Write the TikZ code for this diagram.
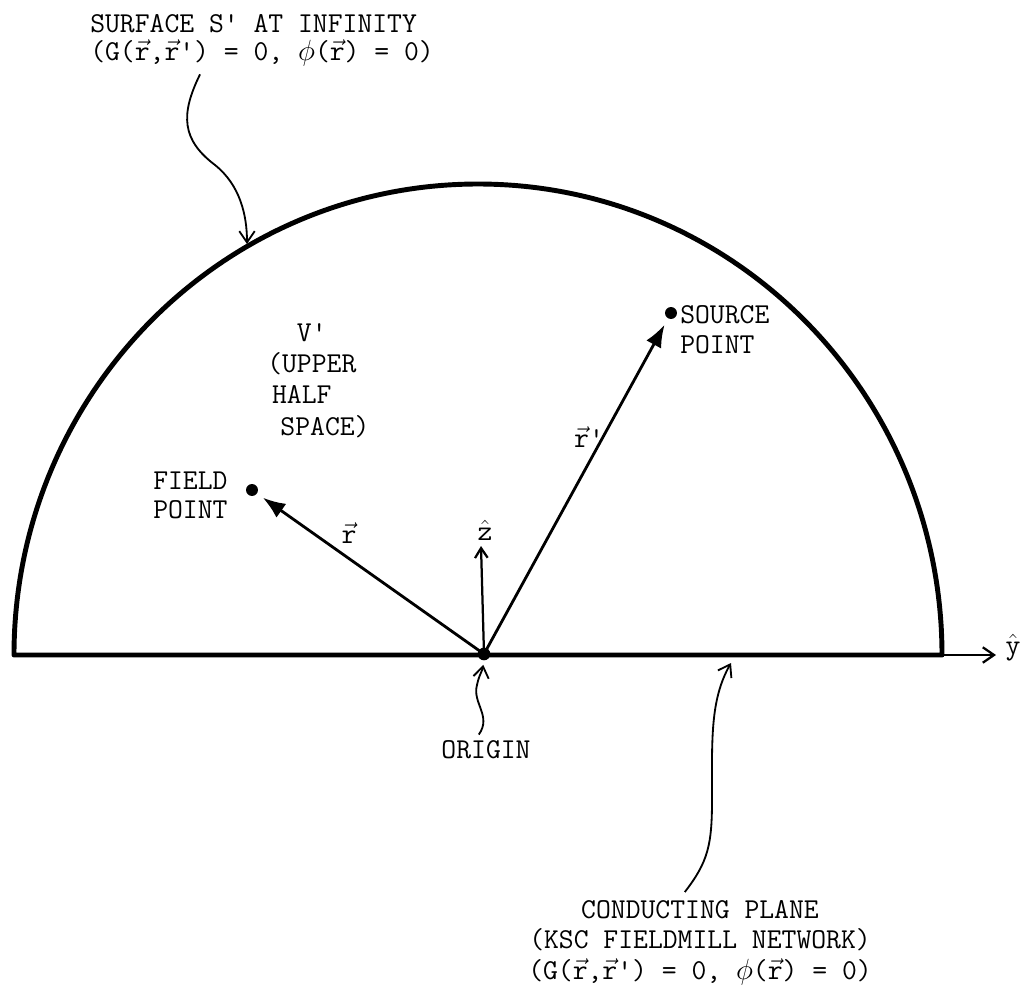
\documentclass[tikz,border=0pt]{standalone}
\usepackage{fontspec}
\usetikzlibrary{arrows.meta}

\tikzset{
	txt/.style={font=\ttfamily\addfontfeature{FakeBold=1.2}\fontsize{20.5}{#1}\selectfont, inner sep=0pt},
	txt/.default=21.8pt,
	bound/.style={line width=3.5pt, line join=round},
	vect/.style={line width=2pt, -{Latex[length=16pt,width=12pt]}, shorten >=5pt},
	pointer/.style={line width=1.3pt, -{Straight Barb[length=8pt,width=11pt]}},
	dot/.style={circle, fill, inner sep=0pt, minimum size=#1},
}
\newcommand{\rvec}{$\vec{\mathtt{r}}$}

\begin{document}
\begin{tikzpicture}[x=0.025cm, y=-0.025cm]
		\useasboundingbox (0,0) rectangle (1026,988);
		% half space
		\draw[bound] (14,655) -- (942,655) arc[start angle=0, end angle=-180, x radius=464, y radius=471] -- cycle;
		\coordinate (yend) at (996,655);
		\draw[line width=1.6pt, -{Straight Barb[length=8pt,width=11pt]}] (942,655) -- (yend);
		\node[txt] (yhat) at (1013,648) {$\hat{\mathtt{y}}$};
		% points
		\node[dot=9pt] (origin) at (484,654) {};
		\node[dot=8.5pt] (fieldpt) at (252,490) {};
		\node[dot=8.5pt] (sourcept) at (671,313) {};
		\coordinate (ztip) at (481,546);
		\draw[vect] (origin.center) -- (fieldpt);
		\draw[vect] (origin.center) -- (sourcept);
		\draw[line width=1.6pt, -{Straight Barb[length=7pt,width=9pt]}] (origin.center) -- (ztip);
		\node[txt] (rlbl) at (349,533) {\rvec};
		\node[txt] (rplbl) at (589,437) {\rvec'};
		\node[txt] (zlbl) at (485,530) {$\hat{\mathtt{z}}$};
		% labels
		\node[txt=20pt, anchor=north west, align=left] (surftxt) at (90,14) {SURFACE S' AT INFINITY\\(G(\rvec,\rvec') = 0, $\phi$(\rvec) = 0)};
		\node[txt=22.3pt, anchor=north west, align=left] (vtxt) at (267,323) {\ \ V'\\(UPPER\\\hspace{0.12cm}HALF\\\hspace{0.33cm}SPACE)};
		\node[txt=20.5pt, anchor=north west, align=left] (fieldtxt) at (153,472) {FIELD\\POINT};
		\node[txt, anchor=north west, align=left] (sourcetxt) at (680,305) {SOURCE\\POINT};
		\node[txt] (origintxt) at (486,750) {ORIGIN};
		\node[txt, anchor=north, align=center] (planetxt) at (700,900) {CONDUCTING PLANE\\(KSC FIELDMILL NETWORK)\\(G(\rvec,\rvec') = 0, $\phi$(\rvec) = 0)};
		% pointers
		\coordinate (surfarc) at (247,244);
		\coordinate (planeln) at (731,663);
		\draw[pointer] ([xshift=2.75cm,yshift=-0.2cm]surftxt.south west) .. controls (180,115) and (182,140) .. (215,165) .. controls (240,185) and (247,215) .. (surfarc);
		\draw[pointer, shorten >=3pt] ([xshift=-0.18cm,yshift=0.15cm]origintxt.north) .. controls (492,716) and (472,703) .. (477,685) .. controls (479,675) and (482,672) .. (origin.south);
		\draw[pointer] ([xshift=-0.38cm,yshift=0.2cm]planetxt.north) .. controls (708,862) and (712,845) .. (712,800) .. controls (712,740) and (710,700) .. (planeln);
	\end{tikzpicture}
\end{document}
